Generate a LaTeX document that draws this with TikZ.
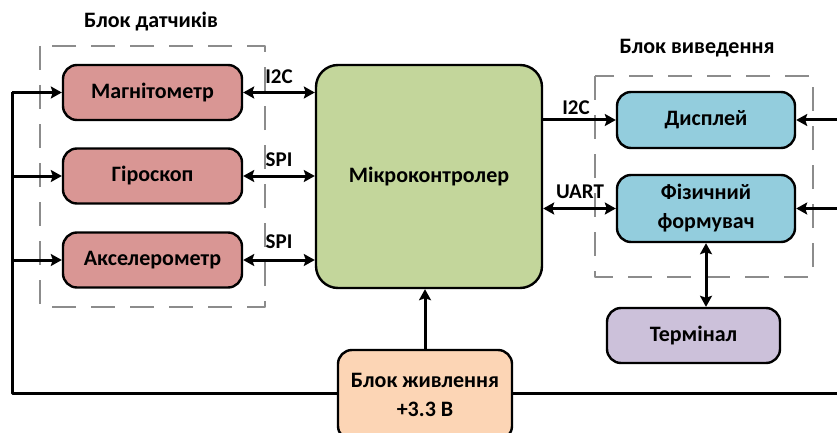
\documentclass[tikz,border=0pt]{standalone}
\usepackage{fontspec}
\setmainfont{Carlito}
\usetikzlibrary{arrows.meta}
\definecolor{sensorred}{HTML}{D99694}
\definecolor{mcugreen}{HTML}{C3D69B}
\definecolor{outblue}{HTML}{93CDDD}
\definecolor{termviolet}{HTML}{CCC1DA}
\definecolor{powerorange}{HTML}{FCD5B5}
\definecolor{groupgray}{HTML}{8C8C8C}

\begin{document}
\begin{tikzpicture}[
  x=1pt,
  y=-1pt,
  line join=round,
  font=\fontsize{22}{29}\selectfont\bfseries,
  block/.style={draw=black,line width=2.4pt,rounded corners=14pt,align=center,inner sep=0pt},
  group/.style={draw=groupgray,line width=2.8pt,dash pattern=on 24pt off 15pt},
  wire/.style={draw=black,line width=3pt},
  tip/.style={-{Stealth[length=11pt,width=12pt,inset=2pt]}},
  both/.style={{Stealth[length=11pt,width=12pt,inset=2pt]}-{Stealth[length=11pt,width=12pt,inset=2pt]}},
  bus/.style={font=\fontsize{21}{24}\selectfont\bfseries}
]
  \useasboundingbox (0,0) rectangle (837,433);
  \clip (0,0) rectangle (837,433);

  % Dashed groups and their titles.
  \draw[group] (40,46) rectangle (265,307);
  \draw[group] (595,76) rectangle (813,277);
  \node (tsens) at (151,22) {Блок датчиків};
  \node (tout) at (697,48) {Блок виведення};

  % Blocks.
  \node[block,fill=sensorred,minimum width=179pt,minimum height=55pt] (mag) at (152.5,92.5) {Магнітометр};
  \node[block,fill=sensorred,minimum width=179pt,minimum height=55pt] (gyro) at (152.5,176) {Гіроскоп};
  \node[block,fill=sensorred,minimum width=179pt,minimum height=55pt] (accel) at (152.5,260) {Акселерометр};
  \node[block,fill=mcugreen,minimum width=226pt,minimum height=223pt,rounded corners=22pt] (mcu) at (429,176.5) {Мікроконтролер};
  \node[block,fill=outblue,minimum width=178pt,minimum height=56pt] (disp) at (706,120) {Дисплей};
  \node[block,fill=outblue,minimum width=178pt,minimum height=67pt] (phy) at (706,208.5) {Фізичний\\формувач};
  \node[block,fill=termviolet,minimum width=173pt,minimum height=55pt] (term) at (693.5,335.5) {Термінал};

  % Supply rail round the left side and along the bottom.
  \coordinate (railL) at (12,393);
  \coordinate (railR) at (837,393);
  \coordinate (feedA) at (837,120);
  \coordinate (feedB) at (837,208.5);
  \draw[wire] (railR) -- (railL) -- (railL |- mag.west);
  \foreach \p in {mag,gyro,accel} {
    \draw[wire,tip] (railL |- \p.west) -- (\p.west);
  }
  \draw[wire,tip] (feedA) -- (disp.east);
  \draw[wire,tip] (feedB) -- (phy.east);

  \node[block,fill=powerorange,minimum width=174pt,minimum height=90pt] (pwr) at (425,395) {Блок живлення\\+3.3 В};
  \draw[wire,tip] (pwr.north) -- (pwr.north |- mcu.south);

  % Sensor buses.
  \foreach \p in {mag,gyro,accel} {
    \draw[wire,both] (\p.east) -- (\p.east -| mcu.west);
  }
  \node[bus] (lmag) at (279,77) {I2C};
  \node[bus] (lgyro) at (279,160) {SPI};
  \node[bus] (lacc) at (279,242) {SPI};

  % Output buses.
  \draw[wire,tip] (mcu.east |- disp.west) -- (disp.west);
  \draw[wire,both] (mcu.east |- phy.west) -- (phy.west);
  \draw[wire,both] (phy.south) -- (term.north -| phy.south);
  \node[bus] (ldisp) at (576,108) {I2C};
  \node[bus] (lphy) at (580,192) {UART};
\end{tikzpicture}
\end{document}
